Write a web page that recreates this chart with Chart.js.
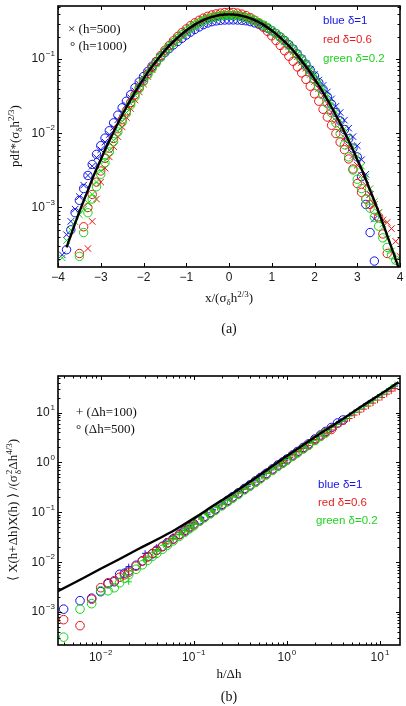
<!DOCTYPE html>
<html>
<head>
<meta charset="utf-8">
<script src="https://cdn.jsdelivr.net/npm/chart.js@4.4.1/dist/chart.umd.min.js"></script>
<style>
  html, body { margin: 0; padding: 0; background: #fff; }
  body { position: relative; width: 406px; height: 706px; overflow: hidden; }
  canvas { position: absolute; left: 0; }
  .t { position: absolute; white-space: nowrap; line-height: 1; color: #111; }
  .serif { font-family: "Liberation Serif", "Times New Roman", serif; font-size: 13px; }
  .sans { font-family: "Liberation Sans", Arial, sans-serif; font-size: 11.5px; }
  .c { transform: translate(-50%, -50%); }
  .l { transform: translateY(-50%); }
  .rot { transform: translate(-50%, -50%) rotate(-90deg); }
  sub, sup { font-size: 9px; line-height: 0; }
  sup { vertical-align: 5px; }
  sub { vertical-align: -3px; }
  .st { display: inline-flex; flex-direction: column; font-size: 9px; line-height: 9px; vertical-align: middle; margin-left: 1px; }
</style>
</head>
<body>
<canvas id="chartA" width="406" height="300" style="top:0"></canvas>
<canvas id="chartB" width="406" height="330" style="top:360px"></canvas>

<!-- panel (a) texts -->
<div class="t serif l" style="left:68px; top:28px">× (h=500)</div>
<div class="t serif l" style="left:70px; top:45px">° (h=1000)</div>
<div class="t sans l" style="left:323px; top:21px; color:#1414e6">blue δ=1</div>
<div class="t sans l" style="left:323px; top:40px; color:#e61e1e">red δ=0.6</div>
<div class="t sans l" style="left:323px; top:59px; color:#1ed21e">green δ=0.2</div>
<div class="t serif c" style="left:229px; top:297px">x/(σ<sub>δ</sub>h<sup>2/3</sup>)</div>
<div class="t serif rot" style="left:14px; top:136px">pdf*(σ<sub>δ</sub>h<sup>2/3</sup>)</div>
<div class="t serif c" style="left:229px; top:329px; font-size:14px">(a)</div>

<!-- panel (b) texts -->
<div class="t serif l" style="left:76px; top:411px">+ (Δh=100)</div>
<div class="t serif l" style="left:76px; top:428px">° (Δh=500)</div>
<div class="t sans l" style="left:318px; top:485px; color:#1414e6">blue δ=1</div>
<div class="t sans l" style="left:318px; top:503px; color:#e61e1e">red δ=0.6</div>
<div class="t sans l" style="left:316px; top:521px; color:#1ed21e">green δ=0.2</div>
<div class="t serif c" style="left:229px; top:673px">h/Δh</div>
<div class="t serif rot" style="left:14px; top:510px">⟨ X(h+Δh)X(h) ⟩ /(σ<span class="st"><span>2</span><span>δ</span></span>Δh<sup>4/3</sup>)</div>
<div class="t serif c" style="left:229px; top:697px; font-size:14px">(b)</div>

<script>
// ── panel (a): pdf of rescaled increments ─────────────────────────────────
const A_X = [
  -3.9, -3.8, -3.7, -3.6, -3.5, -3.4, -3.3, -3.2, -3.1, -3.0,
  -2.9, -2.8, -2.7, -2.6, -2.5, -2.4, -2.3, -2.2, -2.1, -2.0,
  -1.9, -1.8, -1.7, -1.6, -1.5, -1.4, -1.3, -1.2, -1.1, -1.0,
  -0.9, -0.8, -0.7, -0.6, -0.5, -0.4, -0.3, -0.2, -0.1, 0.0,
  0.1, 0.2, 0.3, 0.4, 0.5, 0.6, 0.7, 0.8, 0.9, 1.0,
  1.1, 1.2, 1.3, 1.4, 1.5, 1.6, 1.7, 1.8, 1.9, 2.0,
  2.1, 2.2, 2.3, 2.4, 2.5, 2.6, 2.7, 2.8, 2.9, 3.0,
  3.1, 3.2, 3.3, 3.4, 3.5, 3.6, 3.7, 3.8, 3.9, 4.0
];

const A_CURVE = [
  null, 2.9e-4, 4.2e-4, 6.1e-4, 8.7e-4, 1.23e-3, 1.7e-3, 2.4e-3, 3.3e-3, 4.4e-3,
  6.0e-3, 7.9e-3, 0.0104, 0.0136, 0.0175, 0.0224, 0.0283, 0.0355, 0.044, 0.054,
  0.066, 0.079, 0.094, 0.111, 0.130, 0.150, 0.171, 0.194, 0.218, 0.242,
  0.266, 0.290, 0.312, 0.333, 0.352, 0.368, 0.381, 0.391, 0.397, 0.399,
  0.397, 0.391, 0.381, 0.368, 0.352, 0.333, 0.312, 0.290, 0.266, 0.242,
  0.218, 0.194, 0.171, 0.150, 0.130, 0.111, 0.094, 0.079, 0.066, 0.054,
  0.044, 0.0355, 0.0283, 0.0224, 0.0175, 0.0136, 0.0104, 0.0079, 0.0060, 0.0044,
  3.3e-3, 2.4e-3, 1.7e-3, 1.23e-3, 8.7e-4, 6.1e-4, 4.2e-4, 2.9e-4, 2.0e-4, 1.34e-4
];

// h=1000 (circles)
const A_BLUE_O = [
  null, 2.7e-4, 5.0e-4, 8.5e-4, 1.25e-3, 1.8e-3, 2.7e-3, 3.8e-3, 5.2e-3, 6.8e-3,
  8.6e-3, 0.0108, 0.0138, 0.0175, 0.022, 0.027, 0.033, 0.041, 0.049, 0.058,
  0.068, 0.080, 0.092, 0.106, 0.122, 0.138, 0.155, 0.172, 0.19, 0.21,
  0.23, 0.25, 0.27, 0.29, 0.305, 0.318, 0.326, 0.332, 0.335, 0.336,
  0.336, 0.335, 0.332, 0.327, 0.318, 0.306, 0.293, 0.277, 0.26, 0.24,
  0.22, 0.198, 0.177, 0.156, 0.136, 0.117, 0.10, 0.085, 0.071, 0.059,
  0.048, 0.039, 0.031, 0.0245, 0.019, 0.0147, 0.0112, 0.0084, 0.0063, 0.0048,
  2.6e-3, 1.1e-3, 4.6e-4, 1.9e-4, null, null, null, null, null, null
];
const A_RED_O = [
  null, null, null, null, 2.4e-4, 5.5e-4, 1.0e-3, 1.5e-3, 2.2e-3, 3.1e-3,
  4.6e-3, 6.3e-3, 8.5e-3, 0.0115, 0.0152, 0.020, 0.026, 0.033, 0.041, 0.051,
  0.063, 0.077, 0.093, 0.111, 0.131, 0.152, 0.176, 0.201, 0.227, 0.254,
  0.281, 0.307, 0.332, 0.355, 0.375, 0.392, 0.405, 0.415, 0.422, 0.425,
  0.423, 0.415, 0.402, 0.384, 0.36, 0.333, 0.30, 0.268, 0.236, 0.205,
  0.177, 0.152, 0.129, 0.109, 0.093, 0.078, 0.065, 0.053, 0.043, 0.034,
  0.027, 0.021, 0.0165, 0.0128, 0.0099, 0.0076, 0.0060, 0.0045, 0.0033, 0.0021,
  1.6e-3, 1.3e-3, 1.1e-3, 9.3e-4, 7.5e-4, 4.4e-4, 2.4e-4, null, null, null
];
const A_GREEN_O = [
  null, null, null, null, 2.2e-4, 4.6e-4, 8.5e-4, 1.3e-3, 1.9e-3, 2.8e-3,
  4.0e-3, 5.6e-3, 7.7e-3, 0.0104, 0.014, 0.0185, 0.024, 0.031, 0.040, 0.050,
  0.061, 0.074, 0.089, 0.106, 0.125, 0.145, 0.166, 0.189, 0.213, 0.237,
  0.261, 0.285, 0.307, 0.327, 0.345, 0.36, 0.372, 0.381, 0.386, 0.388,
  0.387, 0.382, 0.373, 0.361, 0.346, 0.329, 0.309, 0.288, 0.265, 0.242,
  0.219, 0.196, 0.174, 0.153, 0.133, 0.114, 0.097, 0.081, 0.066, 0.053,
  0.042, 0.033, 0.025, 0.0188, 0.0138, 0.0099, 0.0070, 0.0048, 0.0032, 0.0024,
  1.8e-3, 1.3e-3, 9.8e-4, 7.4e-4, 5.6e-4, 3.9e-4, 2.9e-4, 2.3e-4, 1.95e-4, null
];

// h=500 (crosses)
const A_BLUE_X = [
  2.3e-4, 4.3e-4, 6.5e-4, 9.5e-4, 1.4e-3, 2.0e-3, 2.7e-3, 3.6e-3, 4.7e-3, 6.0e-3,
  7.6e-3, 9.6e-3, 0.012, 0.0152, 0.019, 0.024, 0.030, 0.037, 0.046, 0.055,
  0.066, 0.078, 0.092, 0.108, 0.126, 0.145, 0.165, 0.186, 0.208, 0.23,
  0.252, 0.274, 0.295, 0.314, 0.331, 0.345, 0.356, 0.363, 0.367, 0.368,
  0.367, 0.363, 0.356, 0.345, 0.332, 0.316, 0.298, 0.279, 0.259, 0.238,
  0.216, 0.195, 0.174, 0.154, 0.135, 0.117, 0.101, 0.086, 0.073, 0.062,
  0.052, 0.044, 0.036, 0.029, 0.023, 0.019, 0.015, 0.0117, 0.009, 0.0068,
  4.4e-3, 2.8e-3, 1.5e-3, 7.0e-4, null, null, null, null, null, null
];
const A_RED_X = [
  null, null, null, null, null, null, 2.8e-4, 6.5e-4, 1.3e-3, 2.2e-3,
  3.4e-3, 4.8e-3, 6.6e-3, 9.0e-3, 0.0122, 0.0163, 0.0215, 0.028, 0.036, 0.046,
  0.058, 0.072, 0.088, 0.106, 0.126, 0.147, 0.170, 0.194, 0.219, 0.244,
  0.269, 0.293, 0.316, 0.337, 0.356, 0.372, 0.386, 0.396, 0.402, 0.405,
  0.403, 0.397, 0.387, 0.373, 0.356, 0.336, 0.314, 0.291, 0.267, 0.243,
  0.218, 0.193, 0.169, 0.147, 0.126, 0.107, 0.090, 0.075, 0.062, 0.050,
  0.040, 0.032, 0.025, 0.0192, 0.0148, 0.0114, 0.0087, 0.0066, 0.0050, 0.0037,
  2.7e-3, 2.0e-3, 1.5e-3, 1.1e-3, 8.5e-4, 6.8e-4, 6.3e-4, 5.2e-4, 3.5e-4, 2.2e-4
];
const A_GREEN_X = [
  2.1e-4, 3.6e-4, 5.0e-4, 6.4e-4, 8.0e-4, 9.5e-4, 1.15e-3, 1.5e-3, 2.2e-3, 3.1e-3,
  4.3e-3, 5.9e-3, 8.0e-3, 0.0108, 0.0145, 0.019, 0.025, 0.0325, 0.041, 0.051,
  0.063, 0.076, 0.091, 0.108, 0.127, 0.147, 0.168, 0.191, 0.215, 0.239,
  0.263, 0.287, 0.309, 0.330, 0.349, 0.365, 0.377, 0.386, 0.391, 0.393,
  0.391, 0.386, 0.377, 0.365, 0.35, 0.332, 0.312, 0.291, 0.268, 0.245,
  0.222, 0.199, 0.177, 0.156, 0.136, 0.117, 0.100, 0.085, 0.071, 0.059,
  0.048, 0.039, 0.031, 0.025, 0.0195, 0.015, 0.0115, 0.0088, 0.0066, 0.0049,
  3.6e-3, 2.6e-3, 1.8e-3, 1.2e-3, 8.5e-4, 6.0e-4, 3.8e-4, 2.6e-4, 1.9e-4, null
];

const A_X_TICKS = [-4, -3, -2, -1, 0, 1, 2, 3, 4];
const A_Y_TICKS = [1e-3, 1e-2, 1e-1];

// ── panel (b): increment correlation vs h/Δh ─────────────────────────────
const B_CURVE_X = [0.00347, 0.0063, 0.01, 0.0158, 0.0251, 0.0398, 0.0631, 0.1, 0.158, 0.251,
                   0.398, 0.631, 1.0, 1.58, 2.51, 3.98, 6.31, 10, 15.8];
const B_CURVE_Y = [2.63e-3, 4.68e-3, 7.41e-3, 0.0115, 0.0182, 0.0282, 0.0447, 0.0759, 0.132, 0.229,
                   0.407, 0.741, 1.35, 2.40, 4.27, 7.41, 13.2, 22.9, 40.7];

// Δh=500 (circles)
const B_O_X = [0.004, 0.006, 0.008, 0.010, 0.012, 0.014, 0.016, 0.018, 0.020, 0.024,
               0.028, 0.032, 0.036, 0.040, 0.046, 0.052, 0.060, 0.070, 0.080, 0.090,
               0.10, 0.115, 0.13, 0.15, 0.17, 0.20, 0.23, 0.26, 0.30, 0.35,
               0.40, 0.46, 0.52, 0.60, 0.70, 0.80, 0.90, 1.0, 1.15, 1.3,
               1.5, 1.7, 2.0, 2.3, 2.6, 3.0, 3.5, 4.0];
const B_BLUE_O = [1.15e-3, 1.70e-3, 1.91e-3, 2.57e-3, 3.72e-3, 4.07e-3, 5.75e-3, 6.03e-3, 6.76e-3, 8.71e-3,
                  0.0107, 0.0129, 0.0148, 0.0174, 0.0209, 0.0245, 0.0295, 0.0363, 0.0437, 0.0513,
                  0.0589, 0.0708, 0.0832, 0.100, 0.117, 0.145, 0.174, 0.204, 0.245, 0.302,
                  0.355, 0.427, 0.501, 0.603, 0.741, 0.891, 1.02, 1.17, 1.41, 1.66,
                  2.00, 2.34, 2.95, 3.55, 4.17, 5.01, 6.17, 7.08];
const B_RED_O = [7.08e-4, 5.37e-4, 1.82e-3, 3.09e-3, 3.89e-3, 4.27e-3, 5.01e-3, 5.62e-3, 6.31e-3, 8.32e-3,
                 0.0105, 0.0129, 0.0151, 0.0174, 0.0204, 0.0240, 0.0288, 0.0355, 0.0417, 0.0490,
                 0.0562, 0.0676, 0.0794, 0.0955, 0.112, 0.138, 0.166, 0.195, 0.234, 0.288,
                 0.339, 0.407, 0.479, 0.575, 0.708, 0.851, 0.977, 1.12, 1.35, 1.58,
                 1.91, 2.24, 2.82, 3.39, 3.98, 4.57, null, null];
const B_GREEN_O = [3.16e-4, 1.15e-3, 1.48e-3, 2.69e-3, 2.69e-3, 3.09e-3, 3.89e-3, 4.79e-3, 5.62e-3, 7.24e-3,
                   8.91e-3, 0.0110, 0.0132, 0.0151, 0.0182, 0.0219, 0.0269, 0.0331, 0.0398, 0.0468,
                   0.0537, 0.0661, 0.0776, 0.0933, 0.110, 0.135, 0.162, 0.191, 0.229, 0.282,
                   0.331, 0.398, 0.468, 0.562, 0.692, 0.832, 0.955, 1.10, 1.32, 1.55,
                   1.86, 2.19, 2.75, 3.31, 3.89, null, null, null];

// Δh=100 (plus)
const B_P_X = [0.02, 0.03, 0.04, 0.05, 0.06, 0.07, 0.08, 0.09, 0.10, 0.12,
               0.14, 0.16, 0.18, 0.20, 0.23, 0.26, 0.30, 0.34, 0.38, 0.43,
               0.48, 0.54, 0.60, 0.68, 0.76, 0.86, 0.96, 1.08, 1.2, 1.35,
               1.5, 1.7, 1.9, 2.1, 2.4, 2.7, 3.0, 3.4, 3.8, 4.2,
               4.7, 5.3, 6.0, 6.7, 7.5, 8.4, 9.4, 10.5, 11.8, 13.2, 14.5];
const B_BLUE_P = [8.13e-3, 0.0151, 0.0200, 0.0263, 0.0331, 0.0398, 0.0468, 0.0550, 0.0631, 0.0794,
                  0.0977, 0.115, 0.135, 0.155, 0.186, 0.219, 0.263, 0.309, 0.363, 0.427,
                  0.490, 0.575, 0.661, 0.776, 0.891, 1.05, 1.20, 1.41, 1.62, 1.86,
                  2.14, 2.51, 2.88, 3.24, 3.80, 4.47, 5.13, 5.89, 6.76, 7.59,
                  8.71, 10.0, 11.7, 13.5, 15.5, 17.8, 20.4, 22.9, 26.3, 30.2, 33.9];
const B_RED_P = [6.76e-3, 0.0126, 0.0178, 0.0240, 0.0302, 0.0363, 0.0437, 0.0513, 0.0589, 0.0741,
                 0.0912, 0.107, 0.126, 0.145, 0.174, 0.204, 0.245, 0.288, 0.331, 0.389,
                 0.447, 0.525, 0.603, 0.708, 0.813, 0.955, 1.10, 1.26, 1.45, 1.66,
                 1.91, 2.19, 2.51, 2.88, 3.39, 3.89, 4.47, 5.13, 5.89, 6.61,
                 7.59, 8.91, 10.2, 11.7, 13.5, 15.5, 17.8, 20.0, 23.4, 26.9, 30.2];
const B_GREEN_P = [4.07e-3, 0.0112, 0.0166, 0.0229, 0.0288, 0.0355, 0.0427, 0.0501, 0.0575, 0.0724,
                   0.0891, 0.107, 0.126, 0.145, 0.174, 0.204, 0.245, 0.295, 0.339, 0.398,
                   0.457, 0.537, 0.617, 0.724, 0.851, 1.00, 1.15, 1.35, 1.55, 1.78,
                   2.04, 2.40, 2.75, 3.16, 3.72, 4.37, 5.01, 5.75, 6.61, 7.41,
                   8.51, 10.0, 11.5, 13.2, 15.1, 17.4, 20.0, 22.9, 26.9, 31.6, 36.3];

const B_X_TICKS = [1e-2, 1e-1, 1, 10];
const B_Y_TICKS = [1e-3, 1e-2, 1e-1, 1, 10];

// ── colours / fonts ────────────────────────────────────────────────────────
const BLUE = '#1010e8', RED = '#ea1212', GREEN = '#14d414';
const SANS = '"Liberation Sans", Arial, sans-serif';

function pts(xs, ys) {
  return xs.map((x, i) => ({ x, y: ys[i] })).filter(p => p.y != null);
}

function marks(label, xs, ys, color, style, r) {
  return {
    label, data: pts(xs, ys), showLine: false,
    pointStyle: style, pointRadius: r, pointBorderWidth: 1,
    pointBorderColor: color, pointBackgroundColor: 'rgba(0,0,0,0)',
  };
}

function curve(xs, ys) {
  return {
    label: 'model', data: pts(xs, ys), showLine: true,
    borderColor: '#000', borderWidth: 2.4, pointRadius: 0,
    tension: 0.35, clip: 0,
  };
}

function logMinors(min, max) {
  const out = [];
  for (let e = Math.floor(Math.log10(min)); e <= Math.ceil(Math.log10(max)); e++) {
    for (let m = 2; m <= 9; m++) {
      const v = m * Math.pow(10, e);
      if (v > min && v < max) out.push(v);
    }
  }
  return out;
}

// "10" with a raised exponent
function drawPow(ctx, v, x, y, align) {
  const e = Math.round(Math.log10(v));
  const sup = e < 0 ? '\u2212' + (-e) : String(e);
  ctx.font = '12px ' + SANS;
  const wb = ctx.measureText('10').width;
  ctx.font = '8px ' + SANS;
  const ws = ctx.measureText(sup).width;
  const w = wb + 1 + ws;
  const x0 = align === 'right' ? x - w : x - w / 2;
  ctx.textAlign = 'left';
  ctx.textBaseline = 'middle';
  ctx.font = '12px ' + SANS;
  ctx.fillText('10', x0, y);
  ctx.font = '8px ' + SANS;
  ctx.fillText(sup, x0 + wb + 1, y - 5);
}

// per-canvas axis setup (kept out of plugin options so nothing gets resolved as scriptable)
const AXES = {
  chartA: { xMajor: A_X_TICKS, xMinor: [], yMajor: A_Y_TICKS, yMinor: logMinors(1.58e-4, 0.517), xLog: false, xLabelDy: 11 },
  chartB: { xMajor: B_X_TICKS, xMinor: logMinors(0.00348, 16.4), yMajor: B_Y_TICKS, yMinor: logMinors(2.2e-4, 54), xLog: true, xLabelDy: 13 },
};

// MATLAB-like box: inward ticks on all four sides, labels outside
const boxAxes = {
  id: 'boxAxes',
  afterDraw(chart) {
    const cfg = AXES[chart.canvas.id];
    const { ctx, chartArea: a } = chart;
    const xs = chart.scales.x, ys = chart.scales.y;
    ctx.save();
    ctx.strokeStyle = '#000';
    ctx.lineWidth = 1;
    const tx = (v, len) => {
      const p = Math.round(xs.getPixelForValue(v)) + 0.5;
      if (p < a.left - 0.5 || p > a.right + 0.5) return;
      ctx.beginPath();
      ctx.moveTo(p, a.bottom); ctx.lineTo(p, a.bottom - len);
      ctx.moveTo(p, a.top); ctx.lineTo(p, a.top + len);
      ctx.stroke();
    };
    const ty = (v, len) => {
      const p = Math.round(ys.getPixelForValue(v)) + 0.5;
      if (p < a.top - 0.5 || p > a.bottom + 0.5) return;
      ctx.beginPath();
      ctx.moveTo(a.left, p); ctx.lineTo(a.left + len, p);
      ctx.moveTo(a.right, p); ctx.lineTo(a.right - len, p);
      ctx.stroke();
    };
    cfg.xMajor.forEach(v => tx(v, 4));
    cfg.xMinor.forEach(v => tx(v, 2.5));
    cfg.yMajor.forEach(v => ty(v, 4));
    cfg.yMinor.forEach(v => ty(v, 2.5));

    ctx.lineWidth = 1.6;
    ctx.strokeRect(a.left, a.top, a.right - a.left, a.bottom - a.top);

    ctx.fillStyle = '#1a1a1a';
    cfg.yMajor.forEach(v => drawPow(ctx, v, a.left - 3, ys.getPixelForValue(v), 'right'));
    cfg.xMajor.forEach(v => {
      const px = xs.getPixelForValue(v), py = a.bottom + cfg.xLabelDy;
      if (cfg.xLog) {
        drawPow(ctx, v, px, py, 'center');
      } else {
        ctx.font = '12px ' + SANS;
        ctx.textAlign = 'center';
        ctx.textBaseline = 'middle';
        ctx.fillText(v < 0 ? '\u2212' + (-v) : String(v), px, py);
      }
    });
    ctx.restore();
  },
};

function hiddenAxis(extra) {
  return Object.assign({
    grid: { display: false },
    border: { display: false },
    ticks: { display: false },
  }, extra);
}

const common = {
  responsive: false,
  animation: false,
  events: [],
  plugins: { legend: { display: false }, tooltip: { enabled: false } },
};

new Chart(document.getElementById('chartA'), {
  type: 'scatter',
  data: {
    datasets: [
      curve(A_X, A_CURVE),
      marks('green h=1000', A_X, A_GREEN_O, GREEN, 'circle', 4.2),
      marks('green h=500', A_X, A_GREEN_X, GREEN, 'crossRot', 4.6),
      marks('red h=1000', A_X, A_RED_O, RED, 'circle', 4.2),
      marks('red h=500', A_X, A_RED_X, RED, 'crossRot', 4.6),
      marks('blue h=1000', A_X, A_BLUE_O, BLUE, 'circle', 4.2),
      marks('blue h=500', A_X, A_BLUE_X, BLUE, 'crossRot', 4.6),
    ],
  },
  options: Object.assign({}, common, {
    layout: { padding: { left: 0, right: 6, top: 6, bottom: 0 } },
    scales: {
      x: hiddenAxis({ type: 'linear', min: -4, max: 4, afterFit: s => { s.height = 33; } }),
      y: hiddenAxis({ type: 'logarithmic', min: 1.58e-4, max: 0.517, afterFit: s => { s.width = 58; } }),
    },
  }),
  plugins: [boxAxes],
});

new Chart(document.getElementById('chartB'), {
  type: 'scatter',
  data: {
    datasets: [
      curve(B_CURVE_X, B_CURVE_Y),
      marks('green Δh=500', B_O_X, B_GREEN_O, GREEN, 'circle', 4.3),
      marks('green Δh=100', B_P_X, B_GREEN_P, GREEN, 'cross', 3.1),
      marks('red Δh=500', B_O_X, B_RED_O, RED, 'circle', 4.3),
      marks('red Δh=100', B_P_X, B_RED_P, RED, 'cross', 3.1),
      marks('blue Δh=500', B_O_X, B_BLUE_O, BLUE, 'circle', 4.3),
      marks('blue Δh=100', B_P_X, B_BLUE_P, BLUE, 'cross', 3.1),
    ],
  },
  options: Object.assign({}, common, {
    layout: { padding: { left: 0, right: 6, top: 16, bottom: 0 } },
    scales: {
      x: hiddenAxis({ type: 'logarithmic', min: 0.00348, max: 16.4, afterFit: s => { s.height = 45; } }),
      y: hiddenAxis({ type: 'logarithmic', min: 2.2e-4, max: 54, afterFit: s => { s.width = 58; } }),
    },
  }),
  plugins: [boxAxes],
});
</script>
</body>
</html>
